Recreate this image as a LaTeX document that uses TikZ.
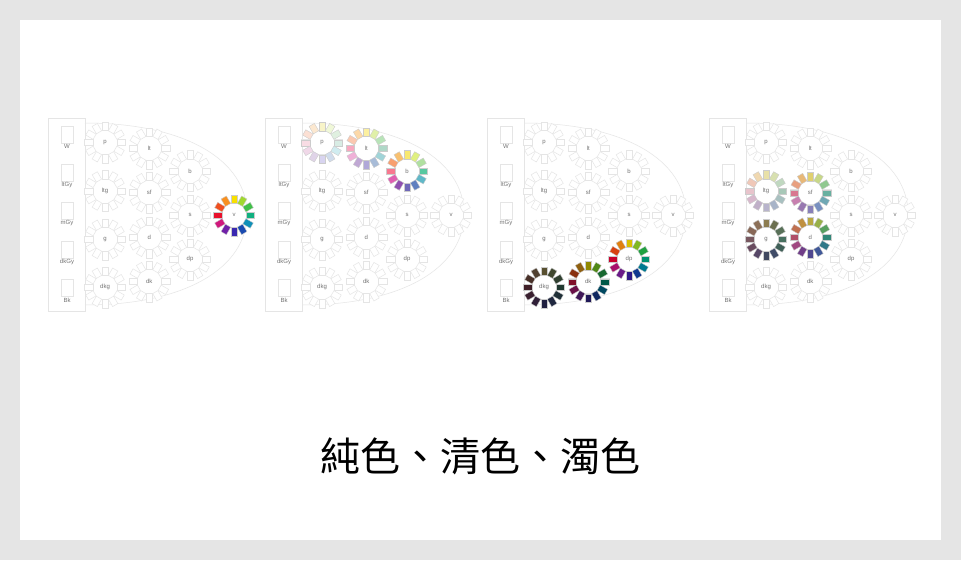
\documentclass[tikz,border=0pt]{standalone}
\usepackage{fontspec}
\setmainfont{Liberation Sans}
\newfontfamily\cjkfont{Noto Sans CJK TC}
\usetikzlibrary{positioning}

\tikzset{
  panelline/.style={draw=black!10, line width=0.5pt},
  wheelbox/.style={draw=black!10, fill=white, line width=0.5pt},
  huebox/.style={draw=black!20, line width=0.3pt},
  tonelabel/.style={text=black!55, font=\fontsize{6}{6}\selectfont, inner sep=0pt},
  titletext/.style={font=\cjkfont\fontsize{40}{40}\selectfont, inner sep=0pt}
}

% tone positions inside one chart (x, y from the chart's top left)
\def\tonelist{p/57/24.7, lt/101.3/30.3, b/142/53, ltg/57/73, sf/101.3/74.7, s/142/97.3,
  v/186/97.3, g/57/121.3, d/101.3/119.3, dp/142/141.3, dkg/57/169.3, dk/101.3/163.7}

% empty tone chart: #1 name, #2 left edge
\newcommand{\tonepanel}[2]{%
  \begin{scope}[shift={(#2,118)}]
    \draw[panelline] (0,0) rectangle (37,193.5);
    \foreach \g [count=\i] in {W,ltGy,mGy,dkGy,Bk} {
      \draw[panelline] (13.7,{8+38.3*(\i-1)}) rectangle ++(11.6,17);
      \node[tonelabel] (#1-\g) at (19,{28.7+38.3*(\i-1)}) {\g};
    }
    \draw[panelline] (37,5) .. controls (137,5) and (199,42) .. (199,96)
      .. controls (199,150) and (137,187) .. (37,187);
    \foreach \t/\x/\y in \tonelist {
      \begin{scope}[shift={(\x,\y)}]
        \foreach \a in {0,30,...,330}
          \draw[wheelbox, rotate=\a] (12,-3) rectangle (20.5,3);
      \end{scope}
      \node[tonelabel] (#1-\t) at (\x,\y) {\t};
    }
  \end{scope}
}

% coloured hue ring on a tone: #1 tone node, #2 hues R, rO, yO, Y, YG, G, BG, gB, B, V, P, RP
\newcommand{\huewheel}[2]{%
  \begin{scope}[shift={(#1.center)}]
    \foreach \c [count=\k] in {#2} {
      \definecolor{hue}{HTML}{\c}
      \draw[huebox, fill=hue, rotate={210-30*\k}] (12,-3) rectangle (20.5,3);
    }
  \end{scope}
}

\begin{document}
\begin{tikzpicture}[x=1pt, y=-1pt]
  \useasboundingbox (0,0) rectangle (961,560);
  \fill[black!10] (0,0) rectangle (961,560);
  \fill[white] (20,20) rectangle (941,540);

  \tonepanel{A}{48}
  \tonepanel{B}{265}
  \tonepanel{C}{487}
  \tonepanel{D}{709}

  % pure colours
  \huewheel{A-v}{E8102C,F05020,F89020,F8E000,A0D830,40C048,10B080,1090B8,1A4AB0,3A28B0,7020A8,D0187C}

  % clear colours, light
  \huewheel{B-p}{F8DCE4,FCE0D4,FCE8D0,F8F4C8,F0F8D8,E0F0E0,D8ECE4,D0ECF0,D0DCEC,D8D4F0,E0D4E8,F0D8E8}
  \huewheel{B-lt}{F8A8C0,FBC8B0,FCD8A8,FCF0A0,E0F0A8,B8E4B8,B0D8C8,A0D4D8,A8BCD8,B0A8D8,C0A8D4,F0B0D8}
  \huewheel{B-b}{F87890,F8A070,F8C070,F8E870,E0F080,B0E0A0,58C8A0,60B8C8,6080C0,7068B8,9050B0,E060B0}

  % clear colours, dark
  \huewheel{C-dp}{C8002C,D84010,E08010,D8C000,80B820,20A040,009070,007890,103890,301888,6A1A88,A8106C}
  \huewheel{C-dk}{80102A,883010,906010,908800,508818,186830,005848,004860,102860,201858,401858,6A1048}
  \huewheel{C-dkg}{402028,483028,504030,585030,404830,304030,203830,203038,202840,202040,302038,3A2030}

  % dull colours
  \huewheel{D-ltg}{E8C4CC,F0C8B8,F0D8B0,E8E0A8,D8E0B0,C0D8C0,A8C8B8,A8C0C0,A8B4C8,B8B4CC,C0B0C8,D8B8CC}
  \huewheel{D-sf}{D87890,E8A080,E8B878,E0D070,C8D888,90C890,68B0A0,70A8B4,7890C0,8880B8,9878B0,C880B0}
  \huewheel{D-g}{785860,886858,8C7058,8C7C50,6C7050,587058,487060,406058,404C68,404860,584868,6A4C60}
  \huewheel{D-d}{B05068,C07050,C09040,B8A840,98B048,58A060,308878,307888,405898,504890,703E88,A04880}

  \node[titletext] (caption) at (480,456) {純色、清色、濁色};
\end{tikzpicture}
\end{document}
